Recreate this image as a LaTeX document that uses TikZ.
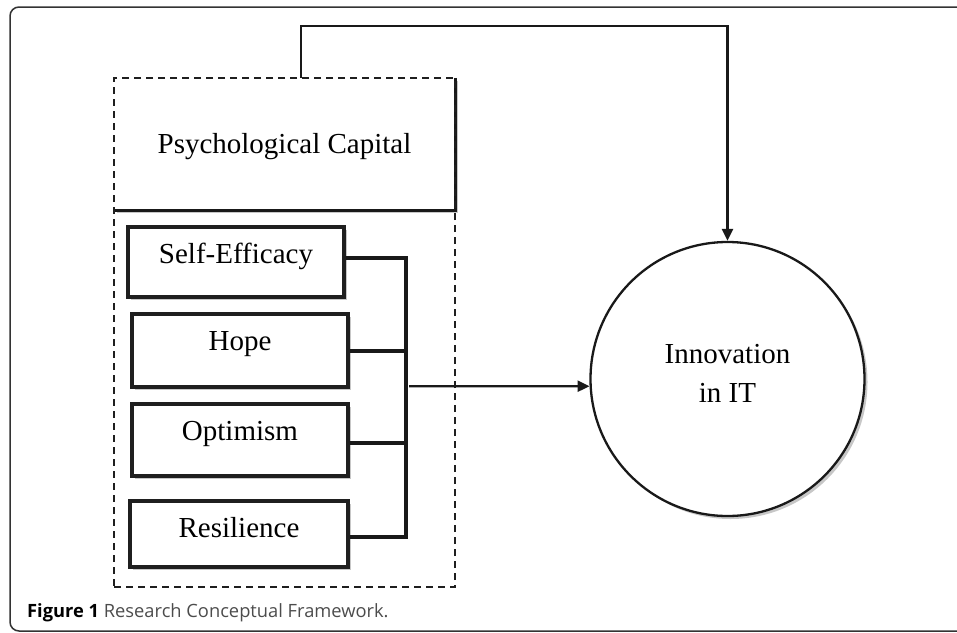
\documentclass[tikz,border=0pt]{standalone}
\usepackage{fontspec}
\setmainfont{Liberation Serif}
\newfontfamily\capfont{Open Sans}
\usetikzlibrary{arrows.meta,shadows}
\begin{document}
\begin{tikzpicture}[x=1pt,y=-1pt,
  shad/.style={drop shadow={shadow xshift=3pt,shadow yshift=-3pt,fill=black!22,opacity=1}},
  box/.style={draw=black!88,line width=3.2pt,fill=white,inner sep=0,shad},
  lbl/.style={font=\fontsize{29}{32}\selectfont,inner sep=0,anchor=base,text=black},
  conn/.style={line width=3.2pt,draw=black!90},
  arr/.style={line width=2.3pt,draw=black!90,-{Triangle[length=12pt,width=11pt]}},
  grpbox/.style={draw=black!88,line width=2.3pt,dash pattern=on 7pt off 5pt,inner sep=0}]
\useasboundingbox (0,0) rectangle (957,632);
\clip (0,0) rectangle (957,632);
% outer frame (open on the right, beyond the picture)
\draw[line width=1.5pt,draw=black!80,rounded corners=9pt] (1000,7) -- (10,7) -- (10,631) -- (1000,631);

% Psychological Capital box
\node[fill=white,shad,inner sep=0,minimum width=341pt,minimum height=132pt] (pc) at (284.5,144) {};
\draw[conn] (pc.north east) -- (pc.south east) -- (pc.south west);
\node[lbl] (tpc) at (284.5,153) {Psychological Capital};

% dashed group
\node[grpbox,minimum width=341pt,minimum height=509pt] (grp) at (284.5,332.5) {};

% dimension boxes
\node[box,minimum width=216pt,minimum height=70pt] (se) at (236,262) {};
\node[lbl] (tse) at (236,263) {Self-Efficacy};
\node[box,minimum width=216pt,minimum height=73pt] (ho) at (240,350.5) {};
\node[lbl] (tho) at (240,350) {Hope};
\node[box,minimum width=216pt,minimum height=72pt] (op) at (240,440) {};
\node[lbl] (top) at (240,440) {Optimism};
\node[box,minimum width=218pt,minimum height=66pt] (re) at (239,534) {};
\node[lbl] (tre) at (239,537) {Resilience};

% Innovation circle
\node[circle,draw=black!90,line width=2.3pt,fill=white,shad,inner sep=0,minimum size=274pt] (inn) at (727.5,379) {};
\node[lbl] (tin1) at (727.5,363) {Innovation};
\node[lbl] (tin2) at (727.5,402) {in IT};

% connectors
\coordinate (jse) at (406,258);
\coordinate (jho) at (406,351);
\coordinate (jop) at (406,443);
\coordinate (jre) at (406,537);
\draw[conn] (se.east |- jse) -- (jse) -- (jre) -- (re.east |- jre);
\draw[conn] (ho.east |- jho) -- (jho);
\draw[conn] (op.east |- jop) -- (jop);
\coordinate (aout) at (409,386.2);
\draw[arr] (aout) -- (inn.183);
\coordinate (t1) at (301,26);
\draw[arr,line join=miter] (pc.north -| t1) -- (t1) -- (t1 -| inn.north) -- (inn.north);

% caption
\node[anchor=base west,inner sep=0,font=\capfont\fontsize{18.3}{21}\selectfont] (cap) at (27,617)
  {\textbf{Figure 1} \textcolor{black!70}{Research Conceptual Framework.}};
\end{tikzpicture}
\end{document}
